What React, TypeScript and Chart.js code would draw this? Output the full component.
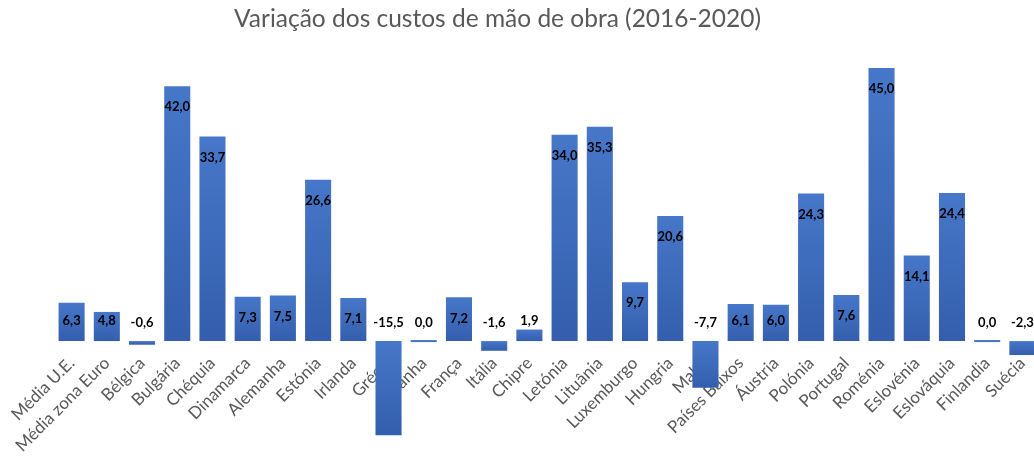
import React, { useEffect, useRef } from "react";
import { Chart, registerables } from "chart.js";

Chart.register(...registerables);

const TITLE = "Variação dos custos de mão de obra (2016-2020)";

const categories = [
  "Média U.E.", "Média zona Euro", "Bélgica", "Bulgária", "Chéquia", "Dinamarca",
  "Alemanha", "Estónia", "Irlanda", "Grécia", "Espanha", "França", "Itália",
  "Chipre", "Letónia", "Lituânia", "Luxemburgo", "Hungria", "Malta",
  "Países Baixos", "Áustria", "Polónia", "Portugal", "Roménia", "Eslovénia",
  "Eslováquia", "Finlandia", "Suécia",
];

const values = [
  6.3, 4.8, -0.6, 42.0, 33.7, 7.3, 7.5, 26.6, 7.1, -15.5, 0.0, 7.2, -1.6,
  1.9, 34.0, 35.3, 9.7, 20.6, -7.7, 6.1, 6.0, 24.3, 7.6, 45.0, 14.1, 24.4,
  0.0, -2.3,
];

const Y_MIN = -19.1;
const Y_MAX = 52.9;

const fmt = (v: number) => v.toFixed(1).replace(".", ",");

const titlePlugin = {
  id: "customTitle",
  afterDraw(chart: any) {
    const ctx = chart.ctx;
    ctx.save();
    ctx.font = "normal 24.5px Lato, 'Open Sans', sans-serif";
    ctx.fillStyle = "#595959";
    ctx.textAlign = "center";
    ctx.textBaseline = "alphabetic";
    ctx.fillText(TITLE, 497.5, 27);
    ctx.restore();
  },
};

const labelPlugin = {
  id: "barLabels",
  afterDatasetsDraw(chart: any) {
    const ctx = chart.ctx;
    const meta = chart.getDatasetMeta(0);
    const zero = chart.scales.y.getPixelForValue(0);
    ctx.save();
    ctx.font = "bold 13px Lato, 'Open Sans', sans-serif";
    ctx.fillStyle = "#000000";
    ctx.textAlign = "center";
    ctx.textBaseline = "middle";
    meta.data.forEach((el: any, i: number) => {
      const v = values[i];
      let y: number;
      if (v > 0) {
        y = Math.min(el.y + 21, zero - 20);
      } else {
        y = zero - 18;
      }
      ctx.fillText(fmt(v), el.x, y);
    });
    ctx.restore();
  },
};

export default function App() {
  const ref = useRef<HTMLCanvasElement>(null);

  useEffect(() => {
    if (!ref.current) return;
    const chart = new Chart(ref.current, {
      type: "bar",
      data: {
        labels: categories,
        datasets: [
          {
            data: values,
            backgroundColor: (c: any) => {
              const ys = c.chart.scales && c.chart.scales.y;
              if (!ys || typeof c.raw !== "number") return "#4472C4";
              const a = ys.getPixelForValue(0);
              const b = ys.getPixelForValue(c.raw);
              const top = Math.min(a, b);
              const bot = Math.max(a, b);
              if (!isFinite(top) || !isFinite(bot) || bot - top < 1) return "#4472C4";
              const g = c.chart.ctx.createLinearGradient(0, top, 0, bot);
              g.addColorStop(0, "#4777c9");
              g.addColorStop(1, "#345ead");
              return g;
            },
            borderWidth: 0,
            barPercentage: 0.74,
            categoryPercentage: 1,
            minBarLength: 2,
          },
        ],
      },
      options: {
        responsive: false,
        animation: false,
        devicePixelRatio: 1,
        layout: { padding: { left: 54, right: 10, top: 20, bottom: 0 } },
        plugins: {
          legend: { display: false },
          title: { display: false },
          tooltip: { enabled: false },
        },
        scales: {
          x: {
            type: "category",
            position: { y: 0 } as any,
            offset: true,
            grid: { display: false, drawTicks: false },
            border: { display: false },
            ticks: {
              autoSkip: false,
              minRotation: 45,
              maxRotation: 45,
              padding: 12,
              color: "#595959",
              font: { family: "Lato, 'Open Sans', sans-serif", size: 17 },
            },
            afterFit: (s: any) => {
              s.paddingLeft = 0;
              s.paddingRight = 0;
              s.height = 0;
            },
          },
          y: {
            display: false,
            min: Y_MIN,
            max: Y_MAX,
          },
        },
      },
      plugins: [labelPlugin, titlePlugin],
    });
    return () => chart.destroy();
  }, []);

  return (
    <div
      style={{
        position: "absolute",
        left: 0,
        top: 0,
        width: 1034,
        height: 457,
        overflow: "hidden",
        background: "#ffffff",
      }}
    >
      <canvas ref={ref} width={1050} height={457} style={{ display: "block" }} />
    </div>
  );
}
